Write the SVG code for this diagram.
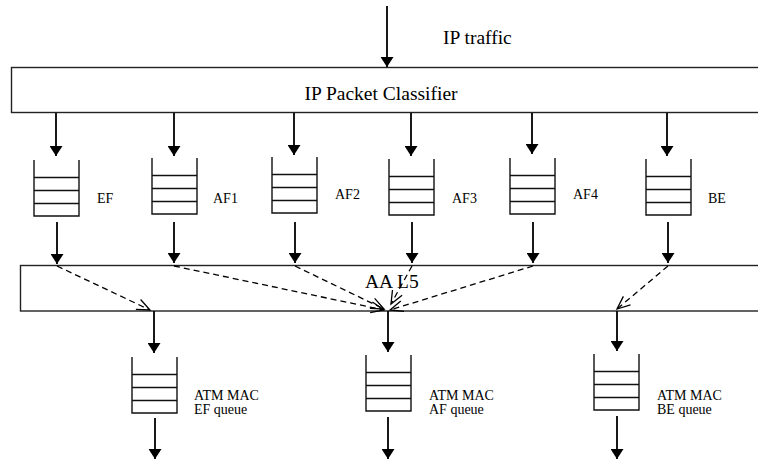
<svg xmlns="http://www.w3.org/2000/svg" xmlns:xlink="http://www.w3.org/1999/xlink" width="758" height="459" viewBox="0 0 758 459">
<style>
  text { font-family: "Liberation Serif", "Times New Roman", serif; fill: #000; }
  .big { font-size: 19.5px; }
  .lbl { font-size: 14px; }
  .box { fill: #fff; stroke: #222; stroke-width: 1.4; }
  .q { fill: none; stroke: #111; stroke-width: 1.4; }
  .arr { stroke: #000; stroke-width: 1.8; fill: none; marker-end: url(#solid); }
  .dash { stroke: #000; stroke-width: 1.3; fill: none; stroke-dasharray: 6 4; marker-end: url(#open); }
</style>
<defs>
  <marker id="solid" markerUnits="userSpaceOnUse" viewBox="0 0 10 13" refX="10" refY="6.5" markerWidth="10" markerHeight="13" orient="auto">
    <path d="M0,0 L10,6.5 L0,13 Z" fill="#000"/>
  </marker>
  <marker id="open" markerUnits="userSpaceOnUse" viewBox="0 0 14 14" refX="13" refY="7" markerWidth="14" markerHeight="14" orient="auto" overflow="visible">
    <path d="M0,1.5 L13,7 L0,12.5" fill="none" stroke="#000" stroke-width="1.3" stroke-dasharray="none"/>
  </marker>
  <path id="queue" class="q" d="M0,0 V56 H45 V0 M0,17.5 H45 M0,30.5 H45 M0,43.5 H45"/>
</defs>

<g id="ip-traffic">
  <text class="big" x="443" y="44">IP traffic</text>
</g>

<g id="classifier">
  <rect class="box" x="11.5" y="67.5" width="760" height="45"/>
  <text class="big" x="381" y="100" text-anchor="middle">IP Packet Classifier</text>
</g>

<g id="q-ef"><use xlink:href="#queue" x="34" y="160"/><text class="lbl" x="97" y="203">EF</text></g>
<g id="q-af1"><use xlink:href="#queue" x="152" y="158"/><text class="lbl" x="213" y="203">AF1</text></g>
<g id="q-af2"><use xlink:href="#queue" x="272" y="157"/><text class="lbl" x="335" y="199">AF2</text></g>
<g id="q-af3"><use xlink:href="#queue" x="389" y="159"/><text class="lbl" x="452" y="203">AF3</text></g>
<g id="q-af4"><use xlink:href="#queue" x="510" y="158"/><text class="lbl" x="573" y="199">AF4</text></g>
<g id="q-be"><use xlink:href="#queue" x="646" y="159"/><text class="lbl" x="708" y="203">BE</text></g>

<g id="aal5">
  <rect class="box" x="20.5" y="265.5" width="760" height="45.5"/>
  <text class="big" x="365" y="288">AA L5</text>
</g>

<g id="atm-ef"><use xlink:href="#queue" x="132" y="357"/><text class="lbl" x="194" y="400">ATM MAC</text><text class="lbl" x="194" y="414">EF queue</text></g>
<g id="atm-af"><use xlink:href="#queue" x="366" y="355"/><text class="lbl" x="429" y="400">ATM MAC</text><text class="lbl" x="429" y="414">AF queue</text></g>
<g id="atm-be"><use xlink:href="#queue" x="594" y="354"/><text class="lbl" x="657" y="400">ATM MAC</text><text class="lbl" x="657" y="414">BE queue</text></g>

<g id="connectors">
  <line class="arr" x1="387" y1="6" x2="387" y2="67"/>
  <line class="arr" x1="56" y1="113" x2="56" y2="156"/>
  <line class="arr" x1="174" y1="113" x2="174" y2="156"/>
  <line class="arr" x1="294" y1="113" x2="294" y2="155"/>
  <line class="arr" x1="411" y1="113" x2="411" y2="156"/>
  <line class="arr" x1="532" y1="113" x2="532" y2="154"/>
  <line class="arr" x1="667" y1="113" x2="667" y2="156"/>

  <line class="arr" x1="57" y1="222" x2="57" y2="264"/>
  <line class="arr" x1="174" y1="222" x2="174" y2="263"/>
  <line class="arr" x1="295" y1="222" x2="295" y2="263"/>
  <line class="arr" x1="412" y1="222" x2="412" y2="263"/>
  <line class="arr" x1="533" y1="222" x2="533" y2="263"/>
  <line class="arr" x1="668" y1="222" x2="668" y2="263"/>

  <line class="dash" x1="57" y1="266" x2="150" y2="310"/>
  <line class="dash" x1="174" y1="266" x2="384" y2="310"/>
  <line class="dash" x1="295" y1="266" x2="384" y2="309"/>
  <line class="dash" x1="412" y1="266" x2="391" y2="304"/>
  <line class="dash" x1="533" y1="266" x2="390" y2="310"/>
  <line class="dash" x1="668" y1="266" x2="617" y2="309"/>

  <line class="arr" x1="154" y1="311" x2="154" y2="353"/>
  <line class="arr" x1="388" y1="311" x2="388" y2="352"/>
  <line class="arr" x1="617" y1="311" x2="617" y2="351"/>

  <line class="arr" x1="155" y1="418" x2="155" y2="459"/>
  <line class="arr" x1="388" y1="417" x2="388" y2="459"/>
  <line class="arr" x1="617" y1="416" x2="617" y2="459"/>
</g>
</svg>
